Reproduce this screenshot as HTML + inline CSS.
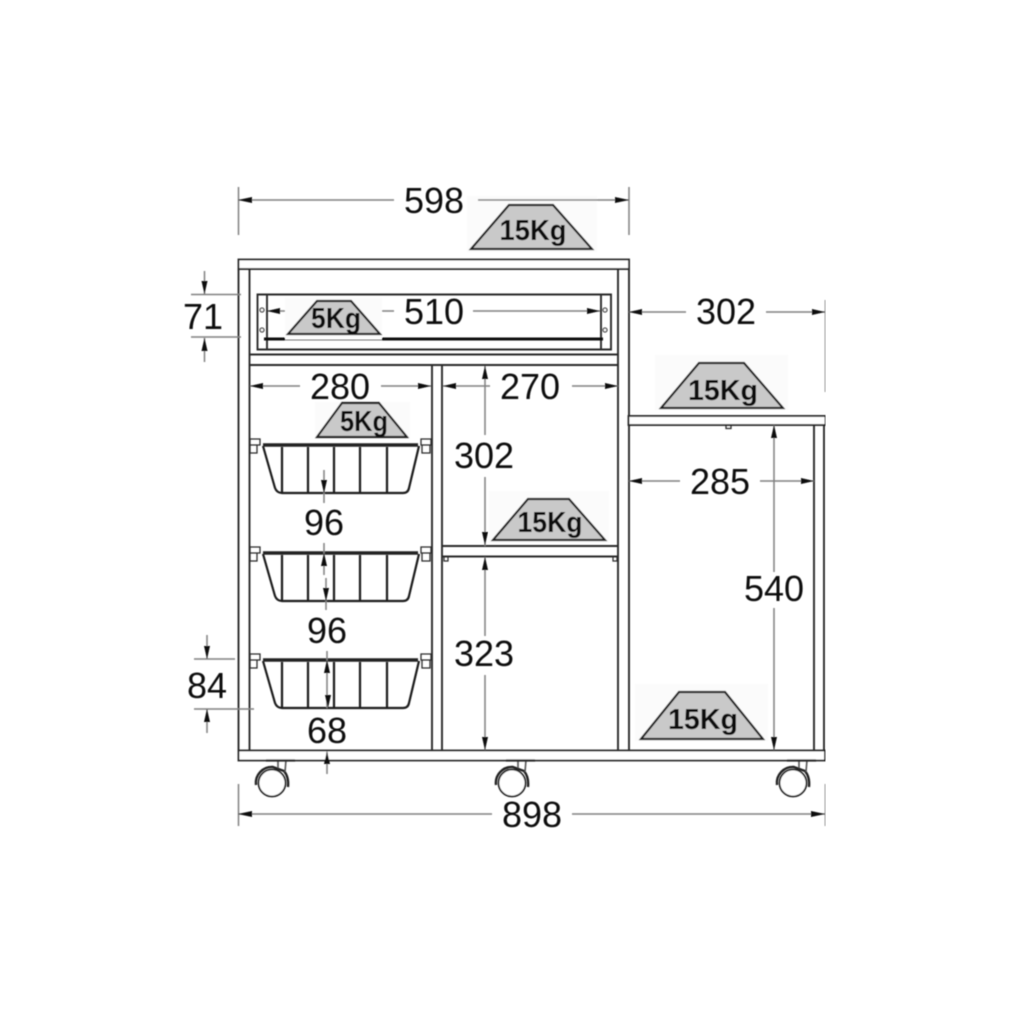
<!DOCTYPE html>
<html><head><meta charset="utf-8"><style>html,body{margin:0;padding:0;background:#fff}svg{display:block}
text{font-family:"Liberation Sans",sans-serif;fill:#111;text-anchor:middle}
.d{font-size:36px}.k{font-weight:bold;font-size:29px}
.o{fill:none;stroke:#2a2a2a;stroke-width:1.9}
.g{fill:none;stroke:#808080;stroke-width:1.5}
.p{fill:#fff;stroke:#2a2a2a;stroke-width:1.9}
.t{fill:#c9c9c9;stroke:#222;stroke-width:2.2;stroke-linejoin:miter}
.b{fill:none;stroke:#1a1a1a;stroke-width:2.2;stroke-linejoin:round}
.a{fill:#0a0a0a}
</style></head><body>
<svg width="1024" height="1024" viewBox="0 0 1024 1024" xmlns="http://www.w3.org/2000/svg">
<defs>
<filter id="s" x="0" y="0" width="100%" height="100%"><feGaussianBlur stdDeviation="0.4"/></filter>
<g id="bk">
 <path class="b" d="M263 446 L275 488 Q277 493 282 493 L403 493 Q408 493 409 488 L419 446"/>
 <path d="M263 445H418" stroke="#222" stroke-width="3.500" fill="none"/>
 <path class="b" d="M282 447V493M308 447V493M334 447V493M360 447V493M387 447V493"/>
 <path class="o" style="stroke-width:1.300" d="M250 439h10v6h-10zM250 445h7v8h-7z"/>
 <path class="o" style="stroke-width:1.300" d="M421 439h10v6h-10zM422 445h8v8h-8z"/>
</g>
<g id="cs">
 <circle cx="0" cy="0" r="13.500" fill="#fff" stroke="#222" stroke-width="1.800"/>
 <path d="M-16 2 A16 16 0 0 1 1 -16 L12 -12 Q17 -6 16 4" fill="none" stroke="#222" stroke-width="2.400"/>
 <path d="M6 -15 L6 -23 M13 -11 L14 -23" fill="none" stroke="#555" stroke-width="1.600"/>
 <path d="M-6 -22.500 H23" stroke="#222" stroke-width="2.200"/>
</g>
</defs>
<rect width="1024" height="1024" fill="#fff"/>
<g filter="url(#s)">
<g fill="#fbfbfb">
<rect x="467" y="196" width="130" height="56"/>
<rect x="285" y="298" width="97" height="40"/>
<rect x="315" y="402" width="95" height="36"/>
<rect x="655" y="355" width="133" height="55"/>
<rect x="489" y="491" width="120" height="52"/>
<rect x="635" y="684" width="133" height="57"/>
</g>

<path class="o" d="M238.500 269V750M249.500 269V750M618 269V750M629 269V750M432 365V750M442 365V750"/>
<rect class="p" x="238.500" y="259.500" width="390.500" height="9.500"/>
<path class="o" d="M249 354.500H618M249 365H618"/>
<path class="o" d="M442 546H618M442 556.500H618"/>
<path class="o" style="stroke-width:1.200" d="M444 557v4h4v-4M613 557v4h4v-4"/>

<path class="o" d="M257.500 294.500H611V349.500H257.500ZM267 295V349M601 295V349"/>
<path d="M264 339H285M382 339H603" stroke="#0a0a0a" stroke-width="3" fill="none"/>
<path d="M285 340H382" stroke="#777" stroke-width="1" fill="none"/>
<g fill="#fff" stroke="#444" stroke-width="1.300">
<circle cx="262" cy="310" r="2"/><circle cx="262" cy="330" r="2"/>
<circle cx="605" cy="310" r="2"/><circle cx="605" cy="330" r="2"/>
</g>

<rect class="p" x="628.500" y="416" width="197" height="9"/>
<path class="o" d="M814 425V750M824 425V750"/>
<path class="o" style="stroke-width:1.300" d="M726 425v3.500h5v-3.500"/>
<rect class="p" x="238.500" y="750.500" width="586.500" height="10"/>

<use href="#bk"/>
<use href="#bk" y="108"/>
<use href="#bk" y="215"/>

<use href="#cs" x="272" y="783"/>
<use href="#cs" x="512" y="783"/>
<use href="#cs" x="793" y="783"/>

<polygon class="t" points="471,249 509,205 553,205 592,249"/>
<polygon class="t" points="288,334 317,301 351,301 380,334"/>
<polygon class="t" points="317,437 342,403 379,403 407,437"/>
<polygon class="t" points="661,408 699,363 744,363 783,408"/>
<polygon class="t" points="493,540 528,499 569,499 605,540"/>
<polygon class="t" points="641,739 679,692 725,692 763,739"/>
<text class="k" x="533" y="240" textLength="67" lengthAdjust="spacingAndGlyphs">15Kg</text>
<text class="k" x="336" y="328" textLength="50" lengthAdjust="spacingAndGlyphs">5Kg</text>
<text class="k" x="364" y="431" textLength="48" lengthAdjust="spacingAndGlyphs">5Kg</text>
<text class="k" x="723" y="400" textLength="70" lengthAdjust="spacingAndGlyphs">15Kg</text>
<text class="k" x="550" y="532" textLength="65" lengthAdjust="spacingAndGlyphs">15Kg</text>
<text class="k" x="703" y="729" textLength="70" lengthAdjust="spacingAndGlyphs">15Kg</text>

<path class="g" d="
M238.500 187V235M629 187V235M238 200H394M478 200H629
M268 311H285M382 311H394M473 311H600
M825.500 300V392M629 312H686M766 312H825
M250 386H300M381 386H431
M443 386H490M572 386H618
M485 366V435M485 477V546
M485 557V636M485 675V750
M629 481H680M760 481H814
M774 425V572M774 608V750
M191 294.500H241M191 337H241M204.500 271V294M204.500 338V362
M194 659H235M194 709H254M207 635V659M207 709V733
M324 470V503
M324 543V575M326 578V610
M327 651V708
M327 752V774
M238.500 784V826M825.500 784V826M238 814H492M572 814H825"/>
<g class="a">
<path d="M238 200l14-3v6zM629 200l-14-3v6z"/>
<path d="M267 311l13-3v6zM600 311l-13-3v6z"/>
<path d="M629 312l13-3v6zM825 312l-13-3v6z"/>
<path d="M250 386l13-3v6zM431 386l-13-3v6z"/>
<path d="M443 386l13-3v6zM618 386l-13-3v6z"/>
<path d="M485 366l-3 13h6zM485 545l-3-13h6zM485 557l-3 13h6zM485 750l-3-13h6z"/>
<path d="M629 481l13-3v6zM814 481l-13-3v6z"/>
<path d="M774 425l-3 13h6zM774 750l-3-13h6z"/>
<path d="M204.500 294l-3-13h6zM204.500 338l-3 13h6z"/>
<path d="M207 659l-3-13h6zM207 709l-3 13h6z"/>
<path d="M324 493l-3-13h6zM324 553l-3 13h6zM326 601l-3-13h6z"/>
<path d="M327 660l-3 13h6zM328 708l-3-13h6zM327 751l-3 13h6z"/>
<path d="M238 814l14-3v6zM825 814l-14-3v6z"/>
</g>

<text class="d" x="434" y="213">598</text>
<text class="d" x="434" y="324">510</text>
<text class="d" x="203" y="329">71</text>
<text class="d" x="340" y="399">280</text>
<text class="d" x="530" y="399">270</text>
<text class="d" x="726" y="324">302</text>
<text class="d" x="484" y="468">302</text>
<text class="d" x="720" y="494">285</text>
<text class="d" x="324" y="535">96</text>
<text class="d" x="327" y="643">96</text>
<text class="d" x="207" y="698">84</text>
<text class="d" x="327" y="743">68</text>
<text class="d" x="484" y="666">323</text>
<text class="d" x="774" y="601">540</text>
<text class="d" x="532" y="827">898</text>
</g>
</svg>
</body></html>
